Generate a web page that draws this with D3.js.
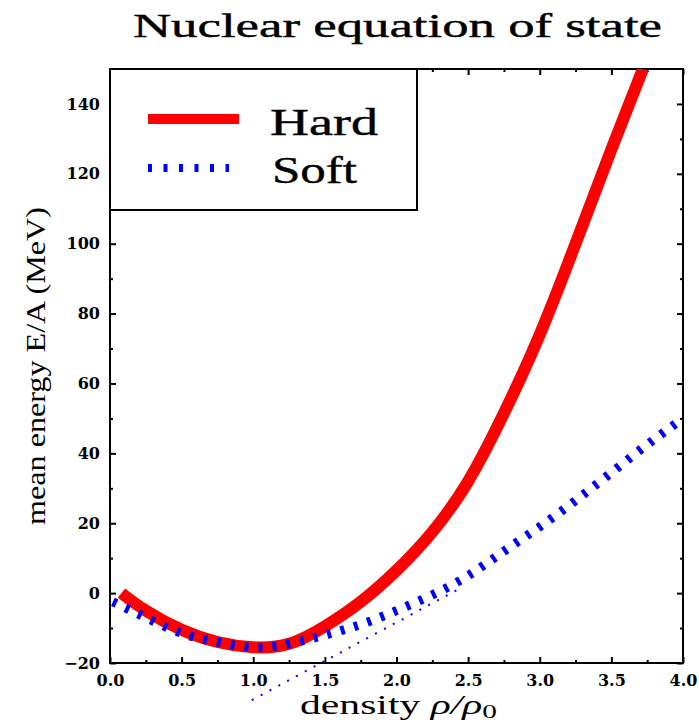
<!DOCTYPE html>
<html>
<head>
<meta charset="utf-8">
<script src="https://cdn.jsdelivr.net/npm/d3@7"></script>
<style>
  html, body { margin: 0; padding: 0; background: #fff; }
  svg { display: block; }
</style>
</head>
<body>
<svg id="chart" width="699" height="723"></svg>
<script>
// ---------------- data ----------------
const hardDensity = [0.08, 0.25, 0.5, 0.75, 1.0, 1.25, 1.5, 1.75, 2.0, 2.25, 2.5, 2.75, 3.0, 3.25, 3.5, 3.72];
const hardEnergy  = [0, -5, -10.5, -14, -15.5, -14.5, -9.5, -2.5, 6.5, 17.5, 32, 51.5, 74, 100, 127, 150];

const softDensity = [0.02, 0.25, 0.5, 0.75, 1.0, 1.25, 1.5, 1.75, 2.0, 2.25, 2.5, 2.75, 3.0, 3.25, 3.5, 3.75, 4.0];
const softEnergy  = [-2.5, -7, -11.5, -14, -15.5, -14.5, -12, -9, -5, -0.5, 5, 12, 19, 26.5, 34.5, 42.5, 50];

// thin dotted trace visible under the soft curve
const softTrailDensity = [0.99, 1.3, 1.6, 1.9, 2.2, 2.45];
const softTrailEnergy  = [-30.6, -23.8, -17.2, -10.6, -4, 1.5];

const xMajorTicks = [0, 0.5, 1.0, 1.5, 2.0, 2.5, 3.0, 3.5, 4.0];
const xMinorTicks = [0.25, 0.75, 1.25, 1.75, 2.25, 2.75, 3.25, 3.75];
const yMajorTicks = [-20, 0, 20, 40, 60, 80, 100, 120, 140];
const yMinorTicks = [-10, 10, 30, 50, 70, 90, 110, 130];

const titleText = "Nuclear equation of state";
const yLabelText = "mean energy E/A (MeV)";
const legendLabels = ["Hard", "Soft"];

// ---------------- layout ----------------
const svg = d3.select("#chart");
const pLeft = 110, pRight = 683, pTop = 69, pBottom = 663;

const x = d3.scaleLinear().domain([0, 4]).range([pLeft, pRight]);
const y = d3.scaleLinear().domain([-20, 150]).range([pBottom, pTop]);

const serif = "'Liberation Serif', 'Times New Roman', serif";
const tickFont = "'DejaVu Serif', serif";

svg.append("defs").append("clipPath").attr("id", "plotclip")
  .append("rect").attr("x", pLeft).attr("y", pTop).attr("width", pRight - pLeft).attr("height", pBottom - pTop);

// title
svg.append("text")
  .attr("x", 133).attr("y", 37)
  .attr("font-family", serif).attr("font-size", 34)
  .attr("textLength", 529).attr("lengthAdjust", "spacingAndGlyphs")
  .attr("fill", "#000").attr("stroke", "#000").attr("stroke-width", 0.4)
  .text(titleText);

function styleAxis(g) {
  g.select(".domain").remove();
  g.selectAll(".tick line").attr("stroke", "#000").attr("stroke-width", 2);
  g.selectAll(".tick text").attr("font-family", tickFont).attr("font-weight", "bold")
    .attr("font-size", 16).attr("fill", "#000");
}

// bottom
svg.append("g").attr("transform", `translate(0,${pBottom})`)
  .call(d3.axisBottom(x).tickValues(xMajorTicks).tickSize(-6).tickPadding(12).tickFormat(d3.format(".1f")))
  .call(styleAxis);
svg.append("g").attr("transform", `translate(0,${pBottom})`)
  .call(d3.axisBottom(x).tickValues(xMinorTicks).tickSize(-3).tickFormat(""))
  .call(styleAxis);
// top
svg.append("g").attr("transform", `translate(0,${pTop})`)
  .call(d3.axisTop(x).tickValues(xMajorTicks).tickSize(-6).tickFormat(""))
  .call(styleAxis);
svg.append("g").attr("transform", `translate(0,${pTop})`)
  .call(d3.axisTop(x).tickValues(xMinorTicks).tickSize(-3).tickFormat(""))
  .call(styleAxis);
// left
svg.append("g").attr("transform", `translate(${pLeft},0)`)
  .call(d3.axisLeft(y).tickValues(yMajorTicks).tickSize(-6).tickPadding(10).tickFormat(d3.format("d")))
  .call(styleAxis);
svg.append("g").attr("transform", `translate(${pLeft},0)`)
  .call(d3.axisLeft(y).tickValues(yMinorTicks).tickSize(-3).tickFormat(""))
  .call(styleAxis);
// right
svg.append("g").attr("transform", `translate(${pRight},0)`)
  .call(d3.axisRight(y).tickValues(yMajorTicks).tickSize(-6).tickFormat(""))
  .call(styleAxis);
svg.append("g").attr("transform", `translate(${pRight},0)`)
  .call(d3.axisRight(y).tickValues(yMinorTicks).tickSize(-3).tickFormat(""))
  .call(styleAxis);

// frame
svg.append("rect").attr("x", pLeft).attr("y", pTop).attr("width", pRight - pLeft).attr("height", pBottom - pTop)
  .attr("fill", "none").attr("stroke", "#000").attr("stroke-width", 2);

// curves
const line = d3.line().x(d => x(d[0])).y(d => y(d[1])).curve(d3.curveNatural);
const hardPts = hardDensity.map((d, i) => [d, hardEnergy[i]]);
const softPts = softDensity.map((d, i) => [d, softEnergy[i]]);
const trailPts = softTrailDensity.map((d, i) => [d, softTrailEnergy[i]]);

svg.append("path").datum(trailPts).attr("d", line)
  .attr("fill", "none").attr("stroke", "#0000ff").attr("stroke-width", 2)
  .attr("stroke-dasharray", "2 8");

svg.append("path").datum(hardPts).attr("d", line).attr("clip-path", "url(#plotclip)")
  .attr("fill", "none").attr("stroke", "#ff0000").attr("stroke-width", 12)
  .attr("stroke-linejoin", "round");

svg.append("path").datum(softPts).attr("d", line).attr("clip-path", "url(#plotclip)")
  .attr("fill", "none").attr("stroke", "#0000ff").attr("stroke-width", 9)
  .attr("stroke-dasharray", "4 10");

// legend
svg.append("rect").attr("x", pLeft).attr("y", pTop).attr("width", 307).attr("height", 141)
  .attr("fill", "#fff").attr("stroke", "#000").attr("stroke-width", 2);
svg.append("line").attr("x1", 148).attr("x2", 239).attr("y1", 119).attr("y2", 119)
  .attr("stroke", "#ff0000").attr("stroke-width", 10);
svg.append("line").attr("x1", 148).attr("x2", 229).attr("y1", 168).attr("y2", 168)
  .attr("stroke", "#0000ff").attr("stroke-width", 8).attr("stroke-dasharray", "4 11.5");
svg.append("text").attr("x", 270).attr("y", 135)
  .attr("font-family", serif).attr("font-size", 38)
  .attr("textLength", 108).attr("lengthAdjust", "spacingAndGlyphs")
  .attr("stroke", "#000").attr("stroke-width", 0.4)
  .text(legendLabels[0]);
svg.append("text").attr("x", 272).attr("y", 183)
  .attr("font-family", serif).attr("font-size", 38)
  .attr("textLength", 85).attr("lengthAdjust", "spacingAndGlyphs")
  .attr("stroke", "#000").attr("stroke-width", 0.4)
  .text(legendLabels[1]);

// y label
svg.append("text")
  .attr("transform", "translate(45,366) rotate(-90)")
  .attr("text-anchor", "middle")
  .attr("font-family", serif).attr("font-size", 28)
  .attr("textLength", 318).attr("lengthAdjust", "spacingAndGlyphs")
  .text(yLabelText);

// x label
const xl = svg.append("text").attr("x", 300).attr("y", 714)
  .attr("font-family", serif).attr("font-size", 27)
  .attr("textLength", 197).attr("lengthAdjust", "spacingAndGlyphs");
xl.append("tspan").text("density ");
xl.append("tspan").attr("font-style", "italic").text("ρ/ρ");
xl.append("tspan").attr("font-size", 19).attr("dy", 4).text("0");
</script>
</body>
</html>
